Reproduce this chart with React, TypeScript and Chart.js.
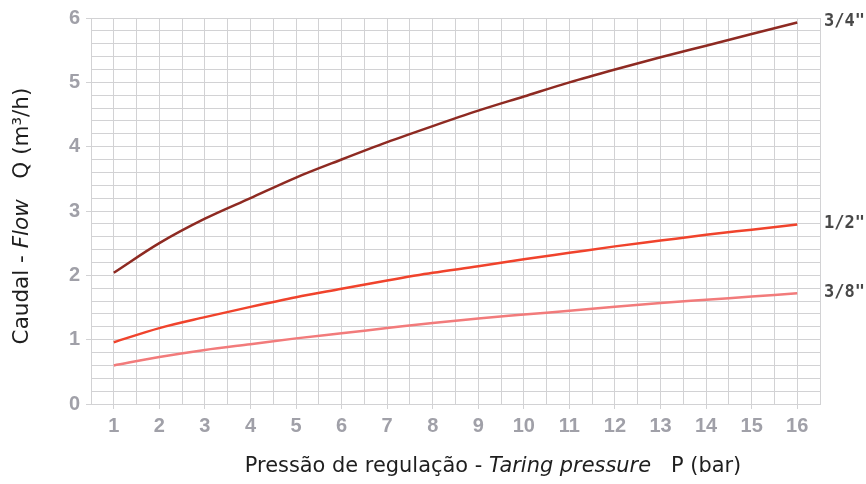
import React, { useEffect, useRef } from "react";
import { Chart, registerables } from "chart.js";

Chart.register(...registerables);

const pressures = [1, 2, 3, 4, 5, 6, 7, 8, 9, 10, 11, 12, 13, 14, 15, 16];
const flow34 = [2.04, 2.5, 2.88, 3.2, 3.52, 3.8, 4.07, 4.32, 4.56, 4.78, 5.0, 5.2, 5.39, 5.57, 5.75, 5.93];
const flow12 = [0.96, 1.18, 1.35, 1.51, 1.66, 1.79, 1.92, 2.04, 2.14, 2.25, 2.35, 2.45, 2.54, 2.63, 2.71, 2.79];
const flow38 = [0.6, 0.73, 0.84, 0.93, 1.02, 1.1, 1.18, 1.26, 1.33, 1.39, 1.45, 1.51, 1.57, 1.62, 1.67, 1.72];
const seriesLabels = ['3/4"', '1/2"', '3/8"'];
const seriesColors = ["#8e2a22", "#f0432c", "#f27b7b"];

const GRID = "#d2d2d4";
const TICK_TXT = "#a0a0a8";
const isInt = (v: number) => Math.abs(v - Math.round(v)) < 1e-6;

const titlesPlugin = {
  id: "titlesPlugin",
  afterDraw(chart: any) {
    const { ctx, scales } = chart;
    const xs = scales.x;
    const ys = scales.y;
    ctx.save();
    ctx.font = 'bold 17px "DejaVu Sans Mono"';
    ctx.fillStyle = "#484848";
    ctx.textBaseline = "middle";
    ctx.textAlign = "left";
    chart.data.datasets.forEach((ds: any, i: number) => {
      const last = ds.data[ds.data.length - 1];
      const px = xs.right + 4;
      const py = ys.getPixelForValue(last.y) - 1;
      ctx.fillText(seriesLabels[i], px, py);
    });
    ctx.restore();

    const drawSegments = (
      segs: { t: string; italic?: boolean }[],
      cx: number,
      cy: number,
      rotate: boolean,
      targetWidth: number
    ) => {
      ctx.save();
      ctx.fillStyle = "#1e1e1e";
      ctx.textBaseline = "middle";
      ctx.textAlign = "left";
      const fontFor = (it: boolean | undefined, size: number) => (it ? "italic " : "") + size + 'px "DejaVu Sans"';
      const measure = (size: number) =>
        segs.map((s) => {
          ctx.font = fontFor(s.italic, size);
          return ctx.measureText(s.t).width;
        });
      const base = measure(20).reduce((a, b) => a + b, 0);
      const size = 20 * (targetWidth / base);
      const widths = measure(size);
      const total = widths.reduce((a, b) => a + b, 0);
      ctx.translate(cx, cy);
      if (rotate) ctx.rotate(-Math.PI / 2);
      let x = -total / 2;
      segs.forEach((s, i) => {
        ctx.font = fontFor(s.italic, size);
        ctx.fillText(s.t, x, 0);
        x += widths[i];
      });
      ctx.restore();
    };

    drawSegments(
      [
        { t: "Pressão de regulação - " },
        { t: "Taring pressure", italic: true },
        { t: "   P (bar)" },
      ],
      493,
      467,
      false,
      497
    );
    drawSegments(
      [{ t: "Caudal - " }, { t: "Flow", italic: true }, { t: "   Q (m³/h)" }],
      22,
      216,
      true,
      257
    );
  },
};

export default function App() {
  const ref = useRef<HTMLCanvasElement | null>(null);
  useEffect(() => {
    if (!ref.current) return;
    const mk = (vals: number[]) => pressures.map((p, i) => ({ x: p, y: vals[i] }));
    const chart = new Chart(ref.current, {
      type: "line",
      data: {
        datasets: [flow34, flow12, flow38].map((vals, i) => ({
          label: seriesLabels[i],
          data: mk(vals),
          borderColor: seriesColors[i],
          borderWidth: 2.5,
          pointRadius: 0,
          tension: 0.4,
          cubicInterpolationMode: "monotone" as const,
          fill: false,
        })),
      },
      options: {
        animation: false,
        responsive: false,
        maintainAspectRatio: false,
        layout: { padding: { left: 0, top: 17, right: 46, bottom: 0 } },
        plugins: { legend: { display: false }, tooltip: { enabled: false } },
        scales: {
          x: {
            type: "linear",
            min: 0.5,
            max: 16.5,
            afterFit: (s: any) => {
              s.height = 80;
            },
            ticks: {
              stepSize: 0.5,
              autoSkip: false,
              maxRotation: 0,
              color: TICK_TXT,
              padding: 5,
              font: { family: '"Liberation Sans"', size: 20, weight: "bold" },
              callback: (v: any) => (isInt(Number(v)) ? String(Math.round(Number(v))) : ""),
            },
            grid: {
              color: GRID,
              lineWidth: 1,
              tickLength: 5,
              tickColor: (c: any) => (c.tick && isInt(c.tick.value) ? GRID : "rgba(0,0,0,0)"),
            },
            border: { color: GRID },
          },
          y: {
            type: "linear",
            min: 0,
            max: 6,
            afterFit: (s: any) => {
              s.width = 91;
            },
            ticks: {
              stepSize: 0.2,
              autoSkip: false,
              color: TICK_TXT,
              padding: 6,
              font: { family: '"Liberation Sans"', size: 20, weight: "bold" },
              callback: (v: any) => (isInt(Number(v)) ? String(Math.round(Number(v))) : ""),
            },
            grid: {
              color: GRID,
              lineWidth: 1,
              tickLength: 5,
              tickColor: (c: any) => (c.tick && isInt(c.tick.value) ? GRID : "rgba(0,0,0,0)"),
            },
            border: { color: GRID },
          },
        },
      },
      plugins: [titlesPlugin],
    });
    return () => chart.destroy();
  }, []);
  return (
    <div style={{ position: "fixed", left: 0, top: 0, width: 866, height: 484, background: "#fff" }}>
      <canvas ref={ref} width={866} height={484} style={{ width: 866, height: 484, display: "block" }} />
    </div>
  );
}
